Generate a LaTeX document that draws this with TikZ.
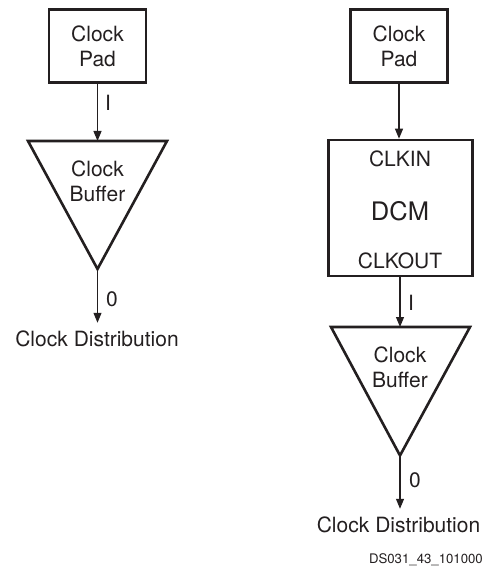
\documentclass[tikz,border=0pt]{standalone}
\usepackage{fontspec}
\setmainfont{TeX Gyre Heros}
\usetikzlibrary{arrows.meta}
\definecolor{ink}{HTML}{231F20}
\begin{document}
\begin{tikzpicture}[x=1pt,y=-1pt,
  every node/.style={text=ink,font=\fontsize{21}{25}\selectfont,inner sep=0pt},
  boxnode/.style={draw=ink,line width=2.6pt,align=center,minimum width=97pt,minimum height=73pt},
  bigbox/.style={draw=ink,line width=2.6pt,minimum width=144pt,minimum height=136pt},
  tri/.style={draw=ink,line width=2.6pt,line join=miter},
  conn/.style={draw=ink,line width=1.1pt,-{Triangle[length=10pt,width=8pt]}},
  lbl/.style={font=\fontsize{21}{25}\selectfont},
  note/.style={font=\fontsize{13.2}{15}\selectfont}]
\useasboundingbox (0,0) rectangle (486,569);
% ---- left column ----
\node[boxnode] (padA) at (97.5,46) {Clock\\Pad};
\coordinate (triAl) at (28,141);
\coordinate (triAr) at (167,141);
\coordinate (triAt) at (97.5,141);
\coordinate (triAb) at (97.5,269);
\draw[tri] (triAl) -- (triAr) -- (triAb) -- cycle;
\node[align=center] (bufA) at (97.5,181) {Clock\\Buffer};
\draw[conn] (padA.south) -- (triAt);
\node[lbl] (iA) at (108,103) {I};
\node (distA) at (97,339) {Clock Distribution};
\draw[conn] (triAb) -- ([yshift=8pt]distA.north -| triAb);
\node[lbl] (oA) at (112,299) {0};
% ---- right column ----
\node[boxnode] (padB) at (399,46) {Clock\\Pad};
\node[bigbox] (dcm) at (400.5,208) {};
\node (clkin) at (400,159) {CLKIN};
\node[font=\fontsize{25.5}{30}\selectfont] (dcmt) at (400,211) {DCM};
\node (clkout) at (400,261) {CLKOUT};
\draw[conn] (padB.south) -- (padB.south |- dcm.north);
\coordinate (triBl) at (331,327);
\coordinate (triBr) at (470,327);
\coordinate (triBt) at (400,327);
\coordinate (triBb) at (400,455.5);
\draw[tri] (triBl) -- (triBr) -- (triBb) -- cycle;
\node[align=center] (bufB) at (400,367) {Clock\\Buffer};
\draw[conn] (dcm.south -| triBt) -- (triBt);
\node[lbl] (iB) at (411,303) {I};
\node (distB) at (398.5,525) {Clock Distribution};
\draw[conn] (triBb) -- ([yshift=8pt]distB.north -| triBb);
\node[lbl] (oB) at (415,480) {0};
\node[note,anchor=east] (code) at (483,560) {DS031\_43\_101000};
\end{tikzpicture}
\end{document}
